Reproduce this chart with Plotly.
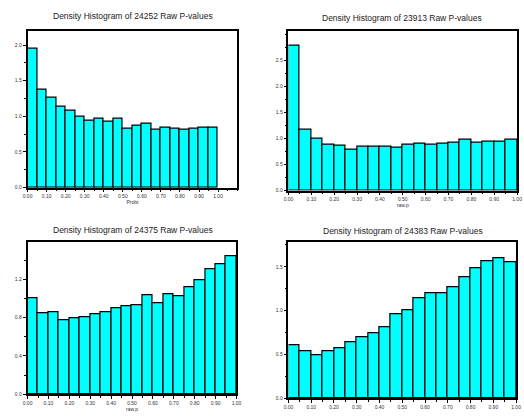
import plotly.graph_objects as go

W, H = 524, 417

bin_centers = [0.025 + 0.05 * i for i in range(20)]
titles = ["Density Histogram of 24252 Raw P-values",
          "Density Histogram of 23913 Raw P-values",
          "Density Histogram of 24375 Raw P-values",
          "Density Histogram of 24383 Raw P-values"]
x_titles = ["Probt", "raw.p", "raw.p", ""]

dens_24252 = [1.95, 1.37, 1.26, 1.14, 1.08, 1.00, 0.94, 0.97, 0.93, 0.96,
              0.83, 0.87, 0.89, 0.81, 0.84, 0.83, 0.81, 0.83, 0.84, 0.84]
dens_23913 = [2.79, 1.17, 0.99, 0.89, 0.87, 0.79, 0.84, 0.85, 0.84, 0.82,
              0.89, 0.90, 0.88, 0.90, 0.92, 0.97, 0.92, 0.93, 0.93, 0.97]
dens_24375 = [1.00, 0.845, 0.86, 0.775, 0.795, 0.80, 0.84, 0.855, 0.90, 0.925,
              0.935, 1.035, 0.955, 1.05, 1.025, 1.115, 1.19, 1.31, 1.365, 1.44]
dens_24383 = [0.60, 0.535, 0.49, 0.54, 0.575, 0.635, 0.69, 0.745, 0.815, 0.955,
              1.00, 1.135, 1.20, 1.20, 1.265, 1.385, 1.48, 1.565, 1.595, 1.55]
series = [dens_24252, dens_23913, dens_24375, dens_24383]

x_tick_vals = [0.1 * k for k in range(11)]
y_tick_vals = [[0.0, 0.5, 1.0, 1.5, 2.0],
               [0.0, 0.5, 1.0, 1.5, 2.0, 2.5],
               [0.0, 0.4, 0.8, 1.2],
               [0.0, 0.5, 1.0, 1.5]]

# pixel boxes (left, right, top, bottom)
boxes = [(23, 237, 31, 189), (289, 522, 31, 192), (23, 236, 244, 397), (289, 521, 244, 401)]
xranges = [[0, 1.102], [0, 1.0], [0, 1.0], [0, 1.0]]
yranges = [[0, 2.2], [0, 3.07], [0, 1.59], [0, 1.78]]
ydticks = [0.5, 0.5, 0.4, 0.5]
title_pos = [(130, 16), (405, 18), (130, 232), (406, 233)]

fig = go.Figure()
font = "Liberation Sans, Arial, sans-serif"
for i in range(4):
    sfx = "" if i == 0 else str(i + 1)
    fig.add_trace(go.Bar(x=bin_centers, y=series[i], width=0.05,
                         marker=dict(color="#00FFFF", line=dict(color="black", width=1.2)),
                         xaxis="x" + sfx, yaxis="y" + sfx, showlegend=False))
    l, r, t, b = boxes[i]
    fig.layout["xaxis" + sfx] = dict(
        domain=[l / W, r / W], anchor="y" + sfx, range=xranges[i],
        tickmode="array", tickvals=x_tick_vals,
        ticktext=["%.2f" % v for v in x_tick_vals],
        ticks="outside", ticklen=3, tickwidth=1, tickcolor="black",
        minor=dict(dtick=0.05, tick0=0, ticks="outside", ticklen=2, tickcolor="black"),
        showline=True, linecolor="black", linewidth=1.5, mirror=True,
        showgrid=False, zeroline=False,
        tickfont=dict(size=5, color="#333", family=font),
        title=dict(text=x_titles[i], font=dict(size=5, color="#333", family=font), standoff=2))
    fig.layout["yaxis" + sfx] = dict(
        domain=[1 - b / H, 1 - t / H], anchor="x" + sfx, range=yranges[i],
        tickmode="array", tickvals=y_tick_vals[i],
        ticktext=["%.1f" % v for v in y_tick_vals[i]],
        ticks="outside", ticklen=3, tickwidth=1, tickcolor="black",
        minor=dict(dtick=ydticks[i] / 2, tick0=0, ticks="outside", ticklen=2, tickcolor="black"),
        showline=True, linecolor="black", linewidth=1.5, mirror=True,
        showgrid=False, zeroline=False,
        tickfont=dict(size=5, color="#333", family=font))
    tx, ty = title_pos[i]
    fig.add_annotation(text=titles[i], x=tx / W, y=1 - ty / H, xref="paper", yref="paper",
                       showarrow=False, xanchor="center", yanchor="middle",
                       font=dict(size=8.5, color="#222", family=font))

fig.update_layout(width=W, height=H, margin=dict(l=0, r=0, t=0, b=0),
                  paper_bgcolor="white", plot_bgcolor="white", bargap=0)
fig.write_html("out.html", config={"displayModeBar": False},
               post_script="document.body.style.margin='0';document.body.style.overflow='hidden';")
